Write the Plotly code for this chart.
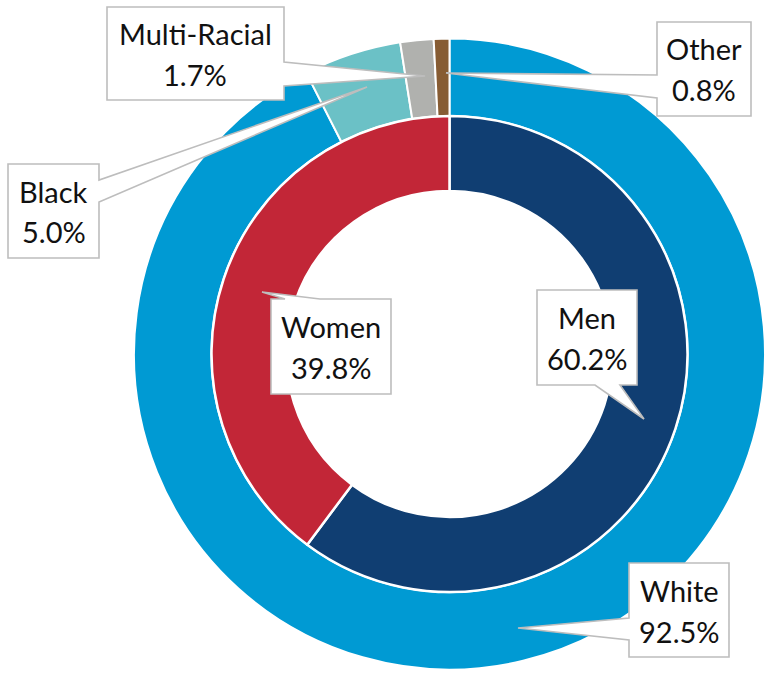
import plotly.graph_objects as go

# ---- data ----
outer_labels = ["White", "Black", "Multi-Racial", "Other"]
outer_values = [92.5, 5.0, 1.7, 0.8]
outer_colors = ["#009AD3", "#6BC1C6", "#B0B1AE", "#875C33"]

inner_labels = ["Men", "Women"]
inner_values = [60.2, 39.8]
inner_colors = ["#103E72", "#C22637"]

W, H = 765, 675
FONT = "Lato"
FSIZE = 29


def px(x, y):
    return x / W, 1 - y / H


# ring geometry (pixels)
CX, CY = 449.5, 354
R_OUT, R_MID, R_HOLE = 315.5, 238, 163

fig = go.Figure()
fig.add_trace(go.Pie(
    labels=outer_labels, values=outer_values, sort=False,
    direction="clockwise", rotation=0, hole=R_MID / R_OUT,
    marker=dict(colors=outer_colors, line=dict(color="white", width=2)),
    textinfo="none", hoverinfo="label+percent", showlegend=False,
    domain=dict(x=[(CX - R_OUT) / W, min(1.0, (CX + R_OUT) / W)],
                y=[1 - (CY + R_OUT) / H, 1 - (CY - R_OUT) / H]),
))
fig.add_trace(go.Pie(
    labels=inner_labels, values=inner_values, sort=False,
    direction="clockwise", rotation=0, hole=R_HOLE / R_MID,
    marker=dict(colors=inner_colors, line=dict(color="white", width=2.5)),
    textinfo="none", hoverinfo="label+percent", showlegend=False,
    domain=dict(x=[(CX - R_MID) / W, (CX + R_MID) / W],
                y=[1 - (CY + R_MID) / H, 1 - (CY - R_MID) / H]),
))

# callout boxes: label -> (box x0,y0,x1,y1), side, base (a,b), tip
callouts = {
    "Multi-Racial": ((107, 7, 284, 100), "right", (62, 86), (425, 76)),
    "Black": ((8, 164, 99, 258), "right", (180, 202), (367, 87)),
    "Other": ((657, 22, 751, 116), "left", (75, 98), (446, 73)),
    "Women": ((271, 299, 391, 394), "top", (285, 320), (262, 292)),
    "Men": ((537, 290, 637, 385), "bottom", (595, 620), (644, 419)),
    "White": ((629, 563, 729, 657), "left", (618, 640), (518, 628)),
}


def callout_path(box, side, base, tip):
    x0, y0, x1, y1 = box
    a, b = base
    tx, ty = tip
    pts = [(x0, y0)]
    if side == "top":
        pts += [(a, y0), (tx, ty), (b, y0)]
    pts += [(x1, y0)]
    if side == "right":
        pts += [(x1, a), (tx, ty), (x1, b)]
    pts += [(x1, y1)]
    if side == "bottom":
        pts += [(b, y1), (tx, ty), (a, y1)]
    pts += [(x0, y1)]
    if side == "left":
        pts += [(x0, b), (tx, ty), (x0, a)]
    s = []
    for i, (x, y) in enumerate(pts):
        xp, yp = px(x, y)
        s.append(("M" if i == 0 else "L") + f"{xp:.5f},{yp:.5f}")
    return " ".join(s) + " Z"


values = dict(zip(outer_labels + inner_labels, outer_values + inner_values))
shapes, annotations = [], []
for name, (box, side, base, tip) in callouts.items():
    shapes.append(dict(type="path", xref="paper", yref="paper",
                       path=callout_path(box, side, base, tip),
                       fillcolor="white", line=dict(color="#BDBDBD", width=1.6),
                       layer="above"))
    mx = (box[0] + box[2]) / 2
    my = (box[1] + box[3]) / 2
    for txt, dy in ((name, -20), (f"{values[name]:.1f}%", 21)):
        x, y = px(mx, my + dy)
        annotations.append(dict(
            x=x, y=y, xref="paper", yref="paper", xanchor="center", yanchor="middle",
            text=txt, showarrow=False,
            font=dict(family=FONT, size=FSIZE, color="#111111"),
        ))

fig.update_layout(
    width=W, height=H, margin=dict(l=0, r=0, t=0, b=0),
    paper_bgcolor="white", plot_bgcolor="white",
    shapes=shapes, annotations=annotations,
)

fig.write_html("out.html", config={"displayModeBar": False},
               post_script="document.body.style.margin='0';")
